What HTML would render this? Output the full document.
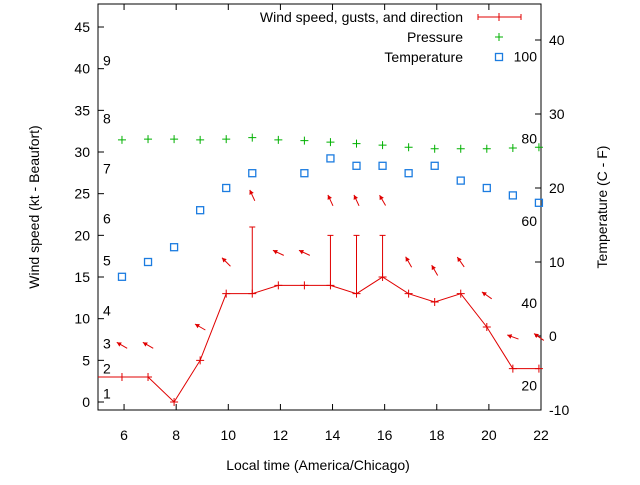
<!DOCTYPE html>
<html><head><meta charset="utf-8"><style>
body{margin:0;background:#fff}
svg text{font-family:"Liberation Sans",sans-serif;font-size:14px;fill:#000}
</style></head><body>
<svg id="c" width="640" height="480" xmlns="http://www.w3.org/2000/svg"></svg>
<script>
const hours=[5.92,6.92,7.92,8.92,9.92,10.92,11.92,12.92,13.92,14.92,15.92,16.92,17.92,18.92,19.92,20.92,21.92];
const wind=[3,3,0,5,13,13,14,14,14,13,15,13,12,13,9,4,4];
const gusts=[null,null,null,null,null,21,null,null,20,20,20,null,null,null,null,null,null];
const temperature=[8,10,12,17,20,22,null,22,24,23,23,22,23,21,20,19,18];
const pressureRel=[26.5,26.6,26.6,26.5,26.6,26.8,26.5,26.4,26.2,26.0,25.8,25.5,25.3,25.3,25.3,25.4,25.5];
const arrowLevel=[6.8,6.8,null,9,16.8,24.8,17.9,17.9,24.2,24.2,24.2,16.8,15.8,16.8,12.8,7.8,7.8];
const arrowDir=[150,150,null,150,135,115,155,155,115,115,120,120,120,125,145,160,145];
const leftTicks=[0,5,10,15,20,25,30,35,40,45];
const rightTicks=[-10,0,10,20,30,40];
const xTicks=[6,8,10,12,14,16,18,20,22];
const beaufort=[1,4,7,11,17,22,28,34,41];
const fTicks=[20,40,60,80,100];
const L=98,R=541,T=4,B=410;
const X=h=>L+(h-5)*(R-L)/17;
const Y=v=>402-v*8.333;
const YR=c=>336-c*7.4;
const svg=document.getElementById('c');
const NS='http://www.w3.org/2000/svg';
function mk(tag,attrs,name,parent){const e=document.createElementNS(NS,tag);for(const k in attrs)e.setAttribute(k,attrs[k]);


(parent||svg).appendChild(e);return e;}
function txt(x,y,s,anchor,name,extra){const t=mk('text',Object.assign({x:x,y:y,'text-anchor':anchor||'start'},extra||{}),name);t.textContent=s;return t;}
mk('rect',{x:L,y:T,width:R-L,height:B-T,fill:'none',stroke:'#000','stroke-width':1},'plot-frame');
leftTicks.forEach(v=>{const y=Y(v);mk('line',{x1:L,y1:y,x2:L+6,y2:y,stroke:'#000'},'left-tick');txt(L-8,y+5,String(v),'end','left-tick-label');});
rightTicks.forEach(v=>{const y=YR(v);mk('line',{x1:R-6,y1:y,x2:R,y2:y,stroke:'#000'},'right-tick');txt(R+8,y+5,String(v),'start','right-tick-label');});
xTicks.forEach(v=>{const x=X(v);mk('line',{x1:x,y1:B,x2:x,y2:B-6,stroke:'#000'},'x-tick');mk('line',{x1:x,y1:T,x2:x,y2:T+6,stroke:'#000'},'x-tick-top');txt(x,B+30,String(v),'middle','x-tick-label');});
beaufort.forEach((v,i)=>{const y=Y(v);txt(L+5,y+5,String(i+1),'start','beaufort-label');});
fTicks.forEach(f=>{const y=YR((f-32)*5/9);txt(R-4,y+5,String(f),'end','fahrenheit-label');});
txt(318,470,'Local time (America/Chicago)','middle','x-axis-title');
txt(39,207,'Wind speed (kt - Beaufort)','middle','left-axis-title',{transform:'rotate(-90 39 207)'});
txt(607,207,'Temperature (C - F)','middle','right-axis-title',{transform:'rotate(-90 607 207)'});
pressureRel.forEach((p,i)=>{const x=X(hours[i]),y=YR(p);mk('path',{d:`M${x-4} ${y}H${x+4}M${x} ${y-4}V${y+4}`,stroke:'#00b000'},'pressure-point');});
temperature.forEach((t,i)=>{if(t==null)return;const x=X(hours[i]),y=YR(t);mk('rect',{x:x-3.5,y:y-3.5,width:7,height:7,fill:'none',stroke:'#1c7ce0','stroke-width':1.3},'temperature-point');});
let d=`M${L} ${Y(wind[0])}`;wind.forEach((w,i)=>{d+=`L${X(hours[i])} ${Y(w)}`;});
mk('path',{d:d,fill:'none',stroke:'#e00000','stroke-width':1},'wind-speed-line');
wind.forEach((w,i)=>{const x=X(hours[i]),y=Y(w);mk('path',{d:`M${x-4} ${y}H${x+4}M${x} ${y-4}V${y+4}`,stroke:'#e00000'},'wind-point');
if(gusts[i]!=null){const g=Y(gusts[i]);mk('path',{d:`M${x} ${y}V${g}M${x-3} ${g}H${x+3}`,stroke:'#e00000'},'gust-bar');}});
arrowLevel.forEach((a,i)=>{if(a==null)return;const x=X(hours[i]),y=Y(a);const r=arrowDir[i]*Math.PI/180;
const dx=Math.cos(r)*6,dy=-Math.sin(r)*6;
const hx=x+dx,hy=y+dy,tx=x-dx,ty=y-dy;const ang=Math.atan2(hy-ty,hx-tx);
const p1=[hx-5*Math.cos(ang-0.5),hy-5*Math.sin(ang-0.5)],p2=[hx-5*Math.cos(ang+0.5),hy-5*Math.sin(ang+0.5)];
const g=mk('g',{},'wind-direction-arrow');
mk('line',{x1:tx,y1:ty,x2:hx,y2:hy,stroke:'#e00000'},'arrow-shaft',g);
mk('polygon',{points:`${hx},${hy} ${p1} ${p2}`,fill:'#e00000'},'arrow-head',g);});
txt(463,22,'Wind speed, gusts, and direction','end','legend-wind-label');
mk('path',{d:'M478 17H521M478 14V20M521 14V20M499 13V21',stroke:'#e00000'},'legend-wind-sample');
txt(463,42,'Pressure','end','legend-pressure-label');
mk('path',{d:'M495 37H503M499 33V41',stroke:'#00b000'},'legend-pressure-sample');
txt(463,62,'Temperature','end','legend-temperature-label');
mk('rect',{x:495.5,y:53.5,width:7,height:7,fill:'none',stroke:'#1c7ce0','stroke-width':1.3},'legend-temperature-sample');
</script>
</body></html>
